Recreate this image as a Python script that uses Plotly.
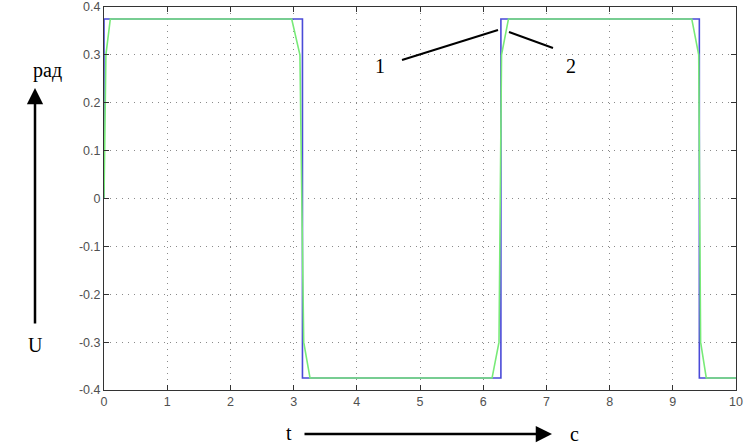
import plotly.graph_objects as go

# Blue: ideal square-wave control (curve 1)
t_blue = [0, 0, 3.14, 3.14, 6.28, 6.28, 9.42, 9.42, 10]
u_blue = [0.0, 0.375, 0.375, -0.375, -0.375, 0.375, 0.375, -0.375, -0.375]

# Green: smoothed response (curve 2)
t_green = [0, 0.01, 0.03, 0.1, 2.97, 3.1, 3.16, 3.26, 6.14, 6.25, 6.29, 6.4, 9.3, 9.41, 9.44, 9.53, 10]
u_green = [0.0, 0.16, 0.3, 0.375, 0.375, 0.3, -0.3, -0.375, -0.375, -0.3, 0.3, 0.375, 0.375, 0.3, -0.3, -0.375, -0.375]

x_ticks = [0, 1, 2, 3, 4, 5, 6, 7, 8, 9, 10]
x_ticktext = ["0", "1", "2", "3", "4", "5", "6", "7", "8", "9", "10"]
y_ticks = [0.4, 0.3, 0.2, 0.1, 0, -0.1, -0.2, -0.3, -0.4]
y_ticktext = ["0.4", "0.3", "0.2", "0.1", "0", "-0.1", "-0.2", "-0.3", "-0.4"]

fig = go.Figure()
fig.add_trace(go.Scatter(x=t_blue, y=u_blue, mode="lines",
                         line=dict(color="#4a4ad8", width=1.6), showlegend=False))
fig.add_trace(go.Scatter(x=t_green, y=u_green, mode="lines",
                         line=dict(color="#78ea78", width=1.6), showlegend=False))

axis_common = dict(showline=True, linecolor="#333333", linewidth=1, mirror="allticks",
                   ticks="inside", ticklen=5, tickcolor="#333333",
                   showgrid=True, gridcolor="#8a8a8a", griddash="1px,5px", gridwidth=1.2,
                   zeroline=False, automargin=False,
                   tickfont=dict(family="Liberation Sans, Arial", size=12.5, color="#505050"))

fig.update_xaxes(range=[0, 10], tickvals=x_ticks, ticktext=x_ticktext, **axis_common)
fig.update_yaxes(range=[-0.4, 0.4], tickvals=y_ticks, ticktext=y_ticktext, **axis_common)

serif = dict(family="Liberation Serif, Times New Roman", size=20, color="black")

def px(x):
    return (x - 104) / 632

def py(y):
    return (390 - y) / 383

annotations = [
    dict(x=px(47), y=py(70), text="рад", showarrow=False, font=serif, xanchor="center", yanchor="middle"),
    dict(x=px(35), y=py(345), text="U", showarrow=False, font=serif, xanchor="center", yanchor="middle"),
    dict(x=px(289), y=py(433), text="t", showarrow=False, font=serif, xanchor="center", yanchor="middle"),
    dict(x=px(574), y=py(434), text="с", showarrow=False, font=serif, xanchor="center", yanchor="middle"),
    dict(x=px(380), y=py(66), text="1", showarrow=False, font=serif, xanchor="center", yanchor="middle"),
    dict(x=px(571), y=py(66), text="2", showarrow=False, font=serif, xanchor="center", yanchor="middle"),
    # vertical arrow
    dict(x=px(35), y=py(88), ax=0, ay=237, text="", showarrow=True, arrowhead=2,
         arrowsize=1.3, arrowwidth=2.5, arrowcolor="black"),
    # horizontal arrow
    dict(x=px(552), y=py(434), ax=-249, ay=0, text="", showarrow=True, arrowhead=2,
         arrowsize=1.3, arrowwidth=2.5, arrowcolor="black"),
]
for a in annotations:
    a["xref"] = "paper"
    a["yref"] = "paper"

shapes = [
    dict(type="line", xref="paper", yref="paper", x0=px(402), y0=py(60), x1=px(498), y1=py(30),
         line=dict(color="black", width=2)),
    dict(type="line", xref="paper", yref="paper", x0=px(509), y0=py(32), x1=px(553), y1=py(48),
         line=dict(color="black", width=2)),
]

fig.update_layout(width=744, height=445,
                  margin=dict(l=104, r=8, t=7, b=55, autoexpand=False),
                  paper_bgcolor="white", plot_bgcolor="white",
                  annotations=annotations, shapes=shapes)

fig.write_html("out.html", config={"displayModeBar": False},
               post_script="document.body.style.margin='0';document.body.style.overflow='hidden';")
